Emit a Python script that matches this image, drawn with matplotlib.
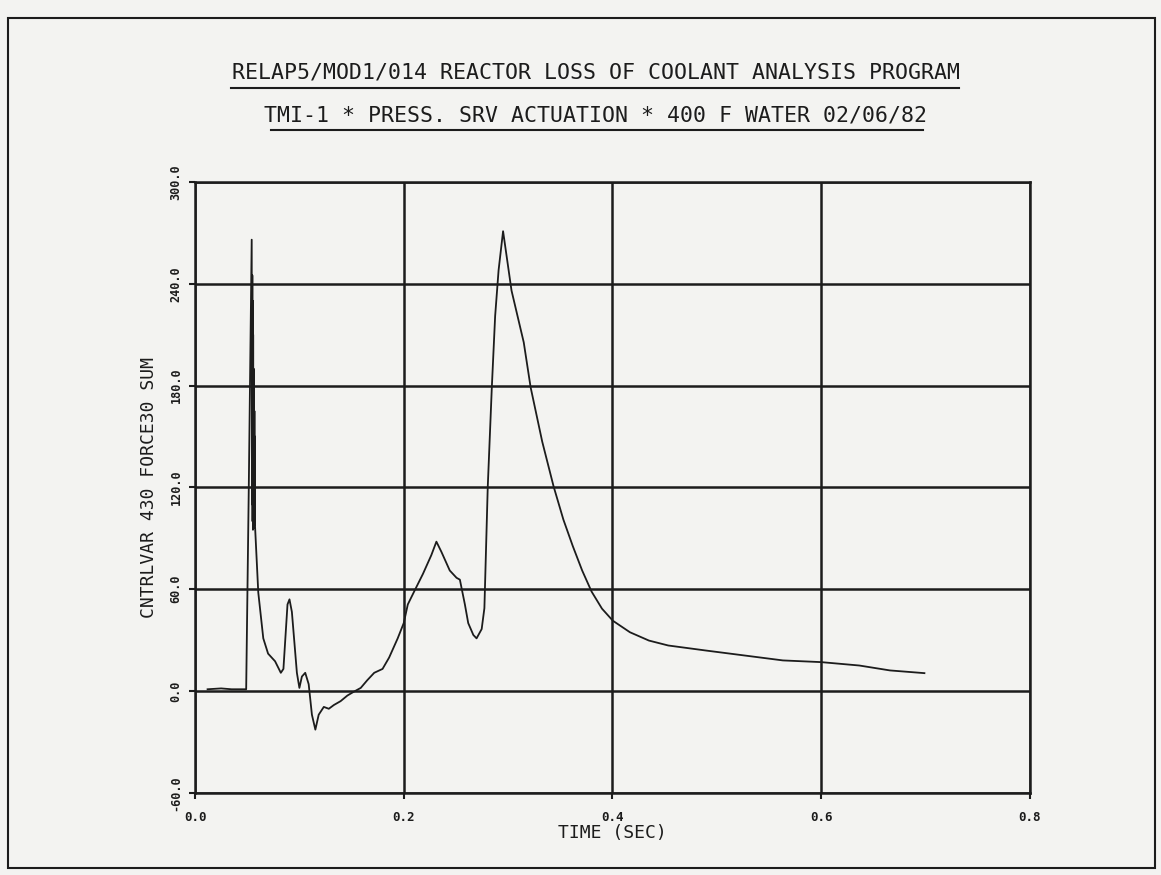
import matplotlib.pyplot as plt

# values
time_sec = [0.012, 0.025, 0.035, 0.045, 0.049, 0.0515, 0.0543,
            0.0546, 0.0549, 0.0551, 0.0553, 0.0555, 0.0557, 0.0559, 0.0561, 0.0563,
            0.0565, 0.0567, 0.0569, 0.0571, 0.0573, 0.0575,
            0.0606, 0.0654, 0.070, 0.0767, 0.0822, 0.0847, 0.0886, 0.0905, 0.0928,
            0.0976, 0.100, 0.1024, 0.1056, 0.1089, 0.112, 0.1153, 0.1185, 0.1234,
            0.1282, 0.133, 0.1395, 0.146, 0.1523, 0.1588, 0.165, 0.1717, 0.1797,
            0.186, 0.1942, 0.200, 0.2039, 0.2103, 0.2184, 0.2264, 0.2313, 0.2361,
            0.2441, 0.2506, 0.2538, 0.2586, 0.2618, 0.2667, 0.2698, 0.2747, 0.2773,
            0.2805, 0.2844, 0.2876, 0.2909, 0.2952, 0.2989, 0.3033, 0.315, 0.3216,
            0.3327, 0.3436, 0.353, 0.362, 0.371, 0.380, 0.390, 0.4004, 0.4168,
            0.435, 0.4535, 0.490, 0.5267, 0.5634, 0.600, 0.6366, 0.666, 0.699]
force_sum = [1, 1.5, 1, 1, 1, 120, 266,
             110, 245, 100, 230, 95, 210, 100, 190, 96,
             180, 100, 165, 98, 150, 97,
             58, 31, 22, 17.5, 10.7, 13, 51, 54, 46.6,
             10.7, 1.8, 8.5, 10.7, 4, -14, -22.8, -14, -9.4,
             -10.5, -8.3, -6, -2.7, -0.4, 1.8, 6.3, 10.7, 13,
             19.7, 31, 40, 51, 59, 69, 80, 88, 82,
             71, 66.7, 65.6, 51, 40, 33, 31, 36.5, 48.8,
             120, 178.7, 221, 248, 271, 255, 236, 205.5, 179,
             147, 120.6, 101, 85.4, 71, 58.6, 48.5, 41.4, 34.6,
             29.7, 26.8, 23.8, 20.9, 18, 17, 15, 12.1, 10.5]

x_ticks = [0.0, 0.2, 0.4, 0.6, 0.8]
x_tick_labels = ["0.0", "0.2", "0.4", "0.6", "0.8"]
y_ticks = [-60, 0, 60, 120, 180, 240, 300]
y_tick_labels = ["-60.0", "0.0", "60.0", "120.0", "180.0", "240.0", "300.0"]

bg = "#f3f3f1"
ink = "#1c1c1c"
font = "DejaVu Sans Mono"

fig = plt.figure(figsize=(11.61, 8.75), dpi=100, facecolor=bg)
ax = fig.add_axes([0.168, 0.094, 0.719, 0.698], facecolor=bg)

ax.plot(time_sec, force_sum, color=ink, linewidth=1.3)

ax.set_xlim(0, 0.8)
ax.set_ylim(-60, 300)
ax.set_xticks(x_ticks)
ax.set_xticklabels(x_tick_labels, fontsize=9, fontweight="bold", family=font, color=ink)
ax.set_yticks(y_ticks)
ax.set_yticklabels(y_tick_labels, fontsize=8.5, fontweight="bold", family=font,
                   color=ink, rotation=90, va="center")
ax.tick_params(axis="x", direction="out", length=4, width=1.5, colors=ink, pad=9)
ax.tick_params(axis="y", direction="out", length=4, width=1.5, colors=ink, pad=5)
ax.grid(True, color=ink, linewidth=1.8)
for s in ax.spines.values():
    s.set_color(ink)
    s.set_linewidth(1.8)

ax.set_xlabel("TIME (SEC)", fontsize=13, family=font, color=ink, labelpad=0)
ax.set_ylabel("CNTRLVAR 430 FORCE30 SUM", fontsize=13, family=font, color=ink, labelpad=8)

# titles, underlined like the plotter output
fig.text(0.513, 0.917, "RELAP5/MOD1/014 REACTOR LOSS OF COOLANT ANALYSIS PROGRAM",
         ha="center", va="center", fontsize=15.5, family=font, color=ink)
fig.text(0.513, 0.868, "TMI-1 * PRESS. SRV ACTUATION * 400 F WATER 02/06/82",
         ha="center", va="center", fontsize=15.5, family=font, color=ink)
fig.add_artist(plt.Line2D([0.199, 0.826], [0.900, 0.900], color=ink, linewidth=1.5))
fig.add_artist(plt.Line2D([0.233, 0.795], [0.851, 0.851], color=ink, linewidth=1.5))

# page frame
fig.add_artist(plt.Rectangle((0.007, 0.008), 0.988, 0.972, fill=False,
                             edgecolor=ink, linewidth=1.5))

fig.savefig("out.png", dpi=100, facecolor=bg)
